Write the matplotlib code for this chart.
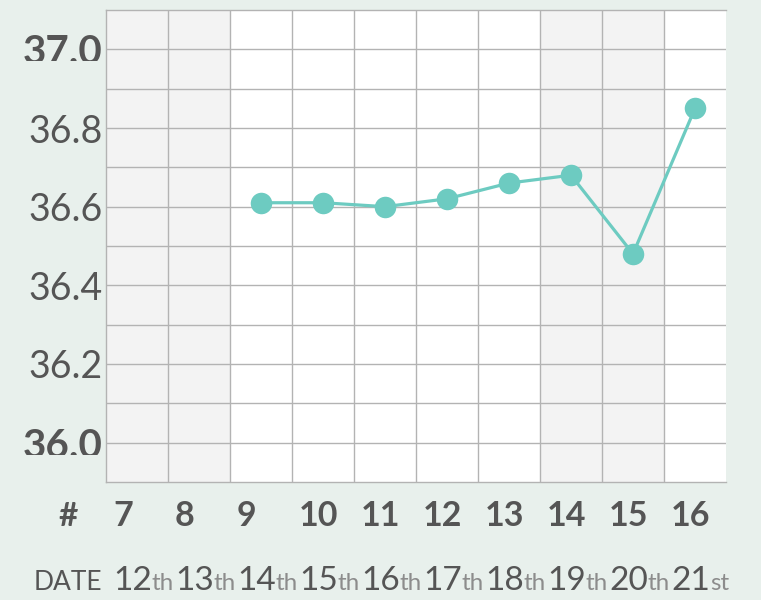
import matplotlib
matplotlib.use("Agg")
import matplotlib.pyplot as plt
from matplotlib.transforms import Bbox, offset_copy, blended_transform_factory
from matplotlib.text import Annotation

# chart data
cycle_nums = [7, 8, 9, 10, 11, 12, 13, 14, 15, 16]
dates = [12, 13, 14, 15, 16, 17, 18, 19, 20, 21]
suffixes = ["th", "th", "th", "th", "th", "th", "th", "th", "th", "st"]
temp_cycles = [9, 10, 11, 12, 13, 14, 15, 16]
temps = [36.61, 36.61, 36.60, 36.62, 36.66, 36.68, 36.48, 36.85]
shaded_cycles = [7, 8, 14, 15]
y_ticks = [36.0, 36.2, 36.4, 36.6, 36.8, 37.0]
y_labels = ["36.0", "36.2", "36.4", "36.6", "36.8", "37.0"]

BG = "#e8f0ec"
GRID = "#b3b3b3"
TEAL = "#6dcbc1"
DARK = "#555555"
LIGHT = "#8c8c8c"
FONT = "Lato"

W, H = 761, 600
fig = plt.figure(figsize=(W / 100, H / 100), dpi=100, facecolor=BG)
ax = fig.add_axes([106 / W, 1 - 482 / H, 620 / W, 472 / H])
ax.set_facecolor("white")

xs = list(range(len(cycle_nums)))
ax.set_xlim(-0.5, len(xs) - 0.5)
ax.set_ylim(35.9, 37.1)

for c in shaded_cycles:
    i = cycle_nums.index(c)
    ax.axvspan(i - 0.5, i + 0.5, color="#f3f3f3", zorder=0, lw=0)

# grid
ax.set_xticks([i + 0.5 for i in xs[:-1]])
ax.set_xticklabels([])
ax.set_yticks([round(35.9 + 0.1 * k, 1) for k in range(1, 12)], minor=True)
ax.set_yticks(y_ticks)
ax.set_yticklabels(y_labels)
ax.grid(True, which="both", color=GRID, lw=1, zorder=1)
ax.tick_params(which="both", length=0)
ax.tick_params(axis="y", pad=2.5, labelsize=27, labelcolor=DARK)
for lab in ax.get_yticklabels():
    lab.set_fontfamily(FONT)
ax.set_axisbelow(True)

for side in ["left", "top", "bottom"]:
    ax.spines[side].set_color(GRID)
    ax.spines[side].set_linewidth(1)
ax.spines["right"].set_visible(False)

# bold, clipped end labels
for lab, val in zip(ax.get_yticklabels(), y_ticks):
    if val in (36.0, 37.0):
        lab.set_fontweight("bold")
        lab.set_fontsize(29)
        y_pix = ax.transData.transform((0, val))[1]
        lab.set_clip_box(Bbox.from_extents(0, y_pix - 12, W, H))
        lab.set_clip_on(True)

# temperature line
px = [cycle_nums.index(c) for c in temp_cycles]
ax.plot(px, temps, color=TEAL, lw=2.3, marker="o", ms=15.5,
        markeredgewidth=0, zorder=3, clip_on=False)

# bottom rows
row1 = 1 - 526 / H
row2 = 1 - 590 / H
fig.text(68 / W, row1, "#", ha="center", va="baseline", fontsize=24,
         fontweight="bold", color=DARK, family=FONT)
fig.text(68 / W, row2, "DATE", ha="center", va="baseline", fontsize=19,
         color=DARK, family=FONT)

shifted = offset_copy(ax.get_xaxis_transform(), fig=fig, x=7, y=0, units="dots")
bx = blended_transform_factory(shifted, fig.transFigure)
for i, num, d, suf in zip(xs, cycle_nums, dates, suffixes):
    fig.text(i - 0.5, row1, str(num), transform=bx, ha="left", va="baseline",
             fontsize=24.5, fontweight="bold", color=DARK, family=FONT)
    t = fig.text(i - 0.5, row2, str(d), transform=bx, ha="left", va="baseline",
                 fontsize=24, color=DARK, family=FONT)
    fig.add_artist(Annotation(
        suf, xy=(1, row2), xycoords=(t, fig.transFigure),
        xytext=(0, 0), textcoords="offset points",
        ha="left", va="baseline", fontsize=17.5, color=LIGHT, family=FONT))

fig.savefig("out.png", dpi=100, facecolor=BG)
